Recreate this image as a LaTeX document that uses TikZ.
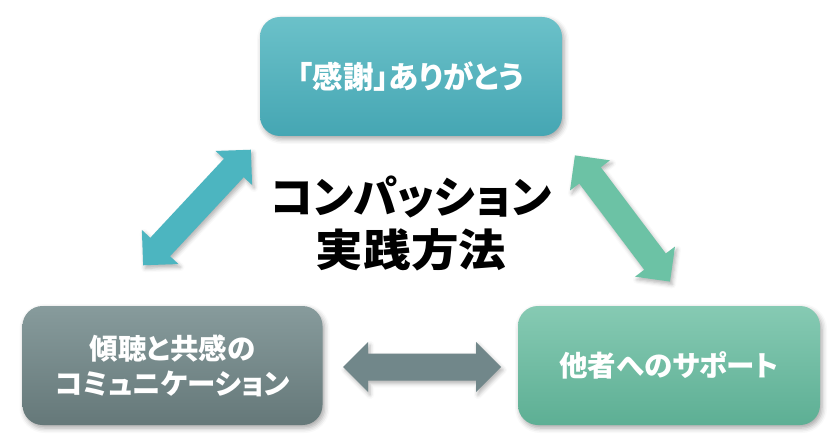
\documentclass[tikz,border=0pt]{standalone}
\usepackage{fontspec}
\newfontfamily\jpfont{Noto Sans CJK JP}[RawFeature=+palt]
\usetikzlibrary{shadows.blur}
\definecolor{tealtop}{HTML}{6BC1C9}
\definecolor{tealbot}{HTML}{45A6B3}
\definecolor{graytop}{HTML}{879B9C}
\definecolor{graybot}{HTML}{657879}
\definecolor{greentop}{HTML}{86CAB3}
\definecolor{greenbot}{HTML}{5DAF94}
\definecolor{arrteal}{HTML}{4CB5C0}
\definecolor{arrgreen}{HTML}{6CC2A5}
\definecolor{arrgray}{HTML}{71878A}
\tikzset{
  box/.style={rounded corners=20pt, minimum width=300pt, minimum height=119pt,
    text=white, align=center, font=\jpfont\bfseries\fontsize{28.5}{35}\selectfont,
    blur shadow={shadow xshift=2pt, shadow yshift=-3pt, shadow blur radius=5pt, shadow opacity=35}},
  dblarrow/.pic={
    \fill[pic actions, blur shadow={shadow xshift=2pt, shadow yshift=-3pt, shadow blur radius=4pt, shadow opacity=30}]
      (-79,0) -- (-54,25) -- (-54,13.5) -- (54,13.5) -- (54,25) -- (79,0)
      -- (54,-25) -- (54,-13.5) -- (-54,-13.5) -- (-54,-25) -- cycle;
  }
}
\begin{document}
\begin{tikzpicture}[x=1pt,y=1pt]
\useasboundingbox (0,0) rectangle (837,445);
\node[box, minimum width=302pt, top color=tealtop, bottom color=tealbot, font=\jpfont\bfseries\fontsize{30.5}{36}\selectfont] (gratitude) at (411,368.5) {「感謝」ありがとう};
\node[box, top color=graytop, bottom color=graybot] (listen) at (172.5,79.5) {傾聴と共感の\\コミュニケーション};
\node[box, minimum width=302pt, top color=greentop, bottom color=greenbot] (support) at (669,79.5) {他者へのサポート};
\node[align=center, font=\jpfont\bfseries\fontsize{44}{53}\selectfont] (title) at (411,222) {コンパッション\\\scalebox{1.08}[1]{実践方法}};
\pic[fill=arrteal, rotate=47] (a1) at (197,237.5) {dblarrow};
\pic[fill=arrgreen, rotate=-53] (a2) at (622.5,226.5) {dblarrow};
\pic[fill=arrgray] (a3) at (422,78) {dblarrow};
\end{tikzpicture}
\end{document}
